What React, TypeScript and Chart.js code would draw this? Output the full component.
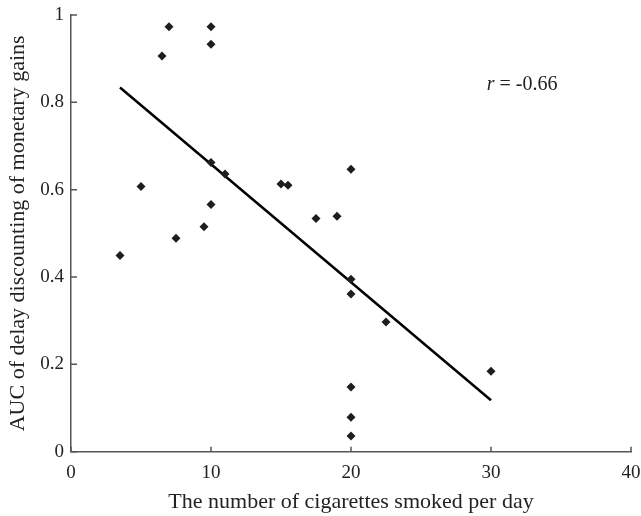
import React, { useEffect, useRef } from "react";
import { Chart, registerables } from "chart.js";

Chart.register(...registerables);

// Data
const cigarettes = [3.5, 5, 6.5, 7, 7.5, 9.5, 10, 10, 10, 10, 11, 15, 15.5, 17.5, 19, 20, 20, 20, 20, 20, 20, 22.5, 30];
const aucValues = [0.449, 0.607, 0.906, 0.973, 0.489, 0.515, 0.973, 0.933, 0.662, 0.566, 0.636, 0.613, 0.610, 0.534, 0.539, 0.647, 0.395, 0.361, 0.148, 0.079, 0.036, 0.297, 0.184];
const fitX = [3.5, 30];
const fitY = [0.834, 0.118];
const xTicks = [0, 10, 20, 30, 40];
const yTicks = [0, 0.2, 0.4, 0.6, 0.8, 1];
const xTickLabels = ["0", "10", "20", "30", "40"];
const yTickLabels = ["0", "0.2", "0.4", "0.6", "0.8", "1"];
const rLabel = { italic: "r", rest: " = -0.66", x: 29.7, y: 0.84 };

const FONT = "'Liberation Serif', 'Times New Roman', serif";

const decorPlugin = {
  id: "decor",
  afterDraw(chart: any) {
    const ctx = chart.ctx;
    const xs = chart.scales.x;
    const ys = chart.scales.y;
    const area = chart.chartArea;
    ctx.save();
    ctx.strokeStyle = "#555";
    ctx.lineWidth = 1.5;
    ctx.beginPath();
    xTicks.forEach((v) => {
      const px = xs.getPixelForValue(v);
      ctx.moveTo(px, area.bottom);
      ctx.lineTo(px, area.bottom - 5);
    });
    yTicks.forEach((v) => {
      const py = ys.getPixelForValue(v);
      ctx.moveTo(area.left, py);
      ctx.lineTo(area.left + 6, py);
    });
    ctx.stroke();

    // r annotation
    const lx = xs.getPixelForValue(rLabel.x);
    const ly = ys.getPixelForValue(rLabel.y);
    ctx.fillStyle = "#222";
    ctx.textBaseline = "middle";
    ctx.textAlign = "left";
    ctx.font = `italic 20px ${FONT}`;
    ctx.fillText(rLabel.italic, lx, ly);
    const w = ctx.measureText(rLabel.italic).width;
    ctx.font = `20px ${FONT}`;
    ctx.fillText(rLabel.rest, lx + w, ly);
    ctx.restore();
  },
};

export default function App() {
  const ref = useRef<HTMLCanvasElement>(null);
  useEffect(() => {
    if (!ref.current) return;
    const chart = new Chart(ref.current, {
      type: "scatter",
      data: {
        datasets: [
          {
            type: "scatter",
            data: cigarettes.map((x, i) => ({ x, y: aucValues[i] })),
            pointStyle: "rectRot",
            pointRadius: 4.5,
            pointBackgroundColor: "#1e1e1e",
            pointBorderColor: "#1e1e1e",
            pointBorderWidth: 0,
          },
          {
            type: "line",
            data: fitX.map((x, i) => ({ x, y: fitY[i] })),
            borderColor: "#000",
            borderWidth: 2.5,
            pointRadius: 0,
            fill: false,
          } as any,
        ],
      },
      options: {
        animation: false,
        responsive: false,
        maintainAspectRatio: false,
        layout: { padding: { top: 15, right: 10, left: 0, bottom: 0 } },
        plugins: { legend: { display: false }, tooltip: { enabled: false } },
        scales: {
          x: {
            type: "linear",
            min: 0,
            max: 40,
            afterBuildTicks: (s: any) => {
              s.ticks = xTicks.map((v) => ({ value: v }));
            },
            afterFit: (s: any) => {
              s.height = 64.3;
              s.paddingLeft = 0;
              s.paddingRight = 0;
            },
            grid: { display: false, drawTicks: false },
            border: { display: true, color: "#555", width: 1.5 },
            ticks: {
              padding: 10,
              color: "#222",
              font: { family: FONT, size: 19 },
              maxRotation: 0,
              callback: (_v: any, i: number) => xTickLabels[i],
            },
            title: {
              display: true,
              text: "The number of cigarettes smoked per day",
              color: "#222",
              font: { family: FONT, size: 22 },
              padding: { top: 0, bottom: 1 },
            },
          },
          y: {
            type: "linear",
            min: 0,
            max: 1,
            afterBuildTicks: (s: any) => {
              s.ticks = yTicks.map((v) => ({ value: v }));
            },
            afterFit: (s: any) => {
              s.width = 71;
              s.paddingTop = 0;
              s.paddingBottom = 0;
            },
            grid: { display: false, drawTicks: false },
            border: { display: true, color: "#555", width: 1.5 },
            ticks: {
              padding: 7,
              color: "#222",
              font: { family: FONT, size: 19 },
              callback: (_v: any, i: number) => yTickLabels[i],
            },
            title: {
              display: true,
              text: "AUC of delay discounting of monetary gains",
              color: "#222",
              font: { family: FONT, size: 22 },
              padding: { top: 5, bottom: 0 },
            },
          },
        },
      },
      plugins: [decorPlugin],
    });
    return () => chart.destroy();
  }, []);
  return (
    <div style={{ position: "absolute", left: 0, top: 0, width: 641, height: 516, background: "#fff", overflow: "hidden" }}>
      <canvas ref={ref} width={641} height={516} style={{ width: 641, height: 516, display: "block" }} />
    </div>
  );
}
